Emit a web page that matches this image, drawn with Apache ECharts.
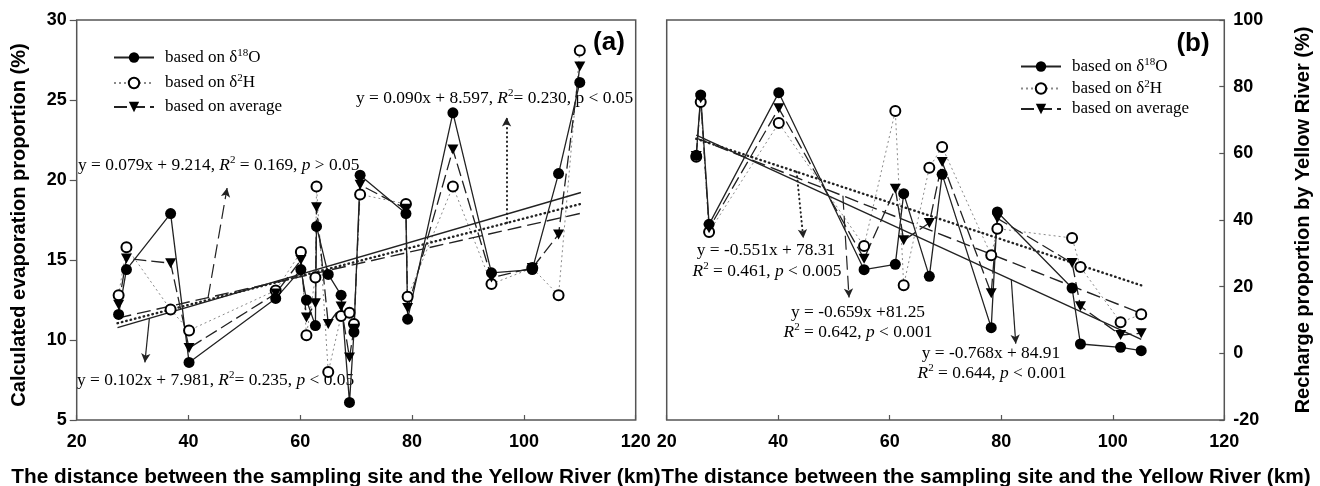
<!DOCTYPE html>
<html>
<head>
<meta charset="utf-8">
<script src="https://cdn.jsdelivr.net/npm/echarts@6/dist/echarts.min.js"></script>
<style>
  html, body { margin: 0; padding: 0; background: #fff; }
  #chart { width: 1320px; height: 486px; }
</style>
</head>
<body>
<div id="chart"></div>
<script>
// ---- panel (a): evaporation proportion (%) vs distance (km)
const distA = [27.5, 28.9, 36.8, 40.1, 55.6, 60.1, 61.1, 62.7, 62.9, 65.0, 67.3, 68.8, 69.6, 70.7, 78.9, 79.2, 87.3, 94.2, 101.5, 106.2, 110.0];
const o18A  = [11.6, 14.4, 17.9, 8.6, 12.6, 14.4, 12.5, 10.9, 17.1, 14.1, 12.8, 6.1, 10.5, 20.3, 17.9, 11.3, 24.2, 14.2, 14.4, 20.4, 26.1];
const h2A   = [12.8, 15.8, 11.9, 10.6, 13.1, 15.5, 10.3, 13.9, 19.6, 8.0, 11.5, 11.7, 11.0, 19.1, 18.5, 12.7, 19.6, 13.5, 14.5, 12.8, 28.1];
const avgA  = [12.2, 15.1, 14.8, 9.5, 12.9, 15.0, 11.4, 12.3, 18.3, 11.0, 12.1, 8.9, 10.7, 19.7, 18.2, 12.0, 21.9, 13.9, 14.5, 16.6, 27.1];

// ---- panel (b): recharge proportion by Yellow River (%) vs distance (km)
const distB = [25.3, 26.1, 27.6, 40.1, 55.4, 61.0, 62.5, 67.1, 69.4, 78.2, 79.3, 92.7, 94.2, 101.4, 105.1];
const o18B  = [59.4, 77.5, 38.7, 78.2, 25.1, 26.7, 47.9, 23.1, 53.7, 7.7, 42.4, 19.6, 2.8, 1.8, 0.8];
const h2B   = [59.0, 75.4, 36.4, 69.1, 32.2, 72.7, 20.4, 55.7, 61.9, 29.4, 37.4, 34.6, 25.9, 9.3, 11.7];
const avgB  = [59.2, 76.5, 37.5, 73.5, 28.4, 49.4, 33.9, 39.1, 57.4, 18.0, 40.5, 27.1, 14.1, 5.5, 6.0];

// regression lines (end points)
const fitA_o18 = [[27.3, 10.77], [110.2, 19.22]];
const fitA_h2  = [[27.3, 11.05], [110.2, 18.51]];
const fitA_avg = [[27.3, 11.37], [110.2, 17.92]];
const fitB_o18 = [[25.3, 65.48], [105.1, 4.19]];
const fitB_h2  = [[25.3, 64.37], [105.1, 20.40]];
const fitB_avg = [[25.3, 64.58], [105.1, 11.99]];

// annotation arrows, from the fit line to the equation
const arrowA_o18 = [[33.0, 11.35], [32.2, 8.6]];
const arrowA_h2  = [[96.9, 17.32], [96.9, 23.9]];
const arrowA_avg = [[43.5, 12.65], [46.9, 19.5]];
const arrowB_o18 = [[81.8, 22.1], [82.6, 2.9]];
const arrowB_h2  = [[43.3, 54.45], [44.5, 34.5]];
const arrowB_avg = [[51.6, 47.25], [52.7, 16.75]];

const xTicks = [20, 40, 60, 80, 100, 120];
const names = ['based on δ18O', 'based on δ2H', 'based on average'];

const serif = '"Liberation Serif", "Times New Roman", serif';
const sans = '"Liberation Sans", Arial, sans-serif';

function richSet(size) {
  return {
    g: { width: 6 },
    n: { fontFamily: serif, fontSize: size, color: '#000', lineHeight: 20 },
    i: { fontFamily: serif, fontSize: size, fontStyle: 'italic', color: '#000', lineHeight: 20 },
    s: { fontFamily: serif, fontSize: 11, color: '#000', lineHeight: 12, verticalAlign: 'top' }
  };
}
const legendRich = richSet(17);
const eqRich = richSet(17.4);

function pairs(xs, ys) {
  return xs.map((x, i) => [x, ys[i]]);
}

function legendFmt(name) {
  if (name === names[0]) return '{g|}{n|based on δ}{s|18}{n|O}';
  if (name === names[1]) return '{g|}{n|based on δ}{s|2}{n|H}';
  return '{g|}{n|based on average}';
}

function dataSeries(idx, dist, h2, avg, o18) {
  return [
    {
      name: names[1], type: 'line', xAxisIndex: idx, yAxisIndex: idx,
      data: pairs(dist, h2), symbol: 'emptyCircle', symbolSize: 10,
      itemStyle: { color: '#000', borderColor: '#000', borderWidth: 1.2 },
      lineStyle: { color: '#8a8a8a', width: 1, type: [2, 3] }
    },
    {
      name: names[2], type: 'line', xAxisIndex: idx, yAxisIndex: idx,
      data: pairs(dist, avg), symbol: 'triangle', symbolSize: [11, 10], symbolRotate: 180,
      itemStyle: { color: '#000' },
      lineStyle: { color: '#222', width: 1.3, type: [13, 5] }
    },
    {
      name: names[0], type: 'line', xAxisIndex: idx, yAxisIndex: idx,
      data: pairs(dist, o18), symbol: 'circle', symbolSize: 11,
      itemStyle: { color: '#000' },
      lineStyle: { color: '#222', width: 1.3 }
    }
  ];
}

const fitStyles = {
  solid: { color: '#222', width: 1.4, type: 'solid' },
  dotted: { color: '#222', width: 2.4, type: [0.5, 4], cap: 'round' },
  dashed: { color: '#222', width: 1.4, type: [14, 6] }
};

function fitSeries(idx, pts, arrow, style) {
  return {
    type: 'line', xAxisIndex: idx, yAxisIndex: idx, data: pts,
    symbol: 'none', silent: true, lineStyle: style,
    markLine: {
      silent: true, symbol: ['none', 'arrow'], symbolSize: [7, 9],
      label: { show: false },
      lineStyle: Object.assign({}, style, { width: style === fitStyles.dotted ? 2 : 1.2 }),
      data: [[{ coord: arrow[0] }, { coord: arrow[1] }]]
    }
  };
}

function eqText(x, y, str, align) {
  return {
    type: 'text', x: x, y: y, silent: true,
    style: {
      text: str, rich: eqRich, fill: '#000',
      textAlign: align, align: align,
      textVerticalAlign: 'middle', verticalAlign: 'middle'
    }
  };
}

function boldText(x, y, str, size, rot) {
  return {
    type: 'text', x: x, y: y, rotation: rot || 0, silent: true,
    style: {
      text: str, fill: '#000', font: 'bold ' + size + 'px ' + sans,
      textAlign: 'center', align: 'center',
      textVerticalAlign: 'middle', verticalAlign: 'middle'
    }
  };
}

const tickLabel = { color: '#000', fontFamily: sans, fontWeight: 'bold', fontSize: 18 };

const chart = echarts.init(document.getElementById('chart'), null, { renderer: 'canvas' });

chart.setOption({
  animation: false,
  backgroundColor: '#fff',
  grid: [
    { left: 76.7, top: 20, width: 559, height: 400, show: true, borderColor: '#555', borderWidth: 1.5, containLabel: false },
    { left: 666.7, top: 20, width: 557.6, height: 400, show: true, borderColor: '#555', borderWidth: 1.5, containLabel: false }
  ],
  xAxis: [0, 1].map(i => ({
    type: 'value', gridIndex: i, position: 'bottom',
    min: xTicks[0], max: xTicks[xTicks.length - 1], interval: 20,
    axisLine: { show: false, onZero: false },
    axisTick: { show: true, inside: true, length: 5, lineStyle: { color: '#555', width: 1.2 } },
    axisLabel: { margin: 13, ...tickLabel },
    splitLine: { show: false }
  })),
  yAxis: [
    {
      type: 'value', gridIndex: 0, min: 5, max: 30, interval: 5,
      axisLine: { show: false, onZero: false },
      axisTick: { show: true, inside: false, length: 7, lineStyle: { color: '#555', width: 1.2 } },
      axisLabel: { margin: 10, ...tickLabel },
      splitLine: { show: false }
    },
    {
      type: 'value', gridIndex: 1, position: 'right', min: -20, max: 100, interval: 20,
      axisLine: { show: false, onZero: false },
      axisTick: { show: true, inside: true, length: 5, lineStyle: { color: '#555', width: 1.2 } },
      axisLabel: { margin: 9, ...tickLabel },
      splitLine: { show: false }
    }
  ],
  legend: [
    {
      data: names, orient: 'vertical', left: 113, top: 47.5, padding: 0,
      itemWidth: 40, itemHeight: 13, itemGap: 7, selectedMode: false,
      formatter: legendFmt, textStyle: { rich: legendRich }
    },
    {
      data: names, orient: 'vertical', left: 1020, top: 56.5, padding: 0,
      itemWidth: 40, itemHeight: 13, itemGap: 3.5, selectedMode: false,
      formatter: legendFmt, textStyle: { rich: legendRich }
    }
  ],
  series: [
    ...dataSeries(0, distA, h2A, avgA, o18A),
    fitSeries(0, fitA_o18, arrowA_o18, fitStyles.solid),
    fitSeries(0, fitA_h2, arrowA_h2, fitStyles.dotted),
    fitSeries(0, fitA_avg, arrowA_avg, fitStyles.dashed),
    ...dataSeries(1, distB, h2B, avgB, o18B),
    fitSeries(1, fitB_o18, arrowB_o18, fitStyles.solid),
    fitSeries(1, fitB_h2, arrowB_h2, fitStyles.dotted),
    fitSeries(1, fitB_avg, arrowB_avg, fitStyles.dashed)
  ],
  graphic: [
    // equations, panel (a)
    eqText(78, 165, '{n|y = 0.079x + 9.214, }{i|R}{s|2}{n| = 0.169, }{i|p}{n| > 0.05}', 'left'),
    eqText(77, 380, '{n|y = 0.102x + 7.981, }{i|R}{s|2}{n|= 0.235, }{i|p}{n| < 0.05}', 'left'),
    eqText(356, 98, '{n|y = 0.090x + 8.597, }{i|R}{s|2}{n|= 0.230, p < 0.05}', 'left'),
    // equations, panel (b)
    eqText(766, 250, '{n|y = -0.551x + 78.31}', 'center'),
    eqText(767, 271, '{i|R}{s|2}{n| = 0.461, }{i|p}{n| < 0.005}', 'center'),
    eqText(858, 312, '{n|y = -0.659x +81.25}', 'center'),
    eqText(858, 332, '{i|R}{s|2}{n| = 0.642, }{i|p}{n| < 0.001}', 'center'),
    eqText(991, 353, '{n|y = -0.768x + 84.91}', 'center'),
    eqText(992, 373, '{i|R}{s|2}{n| = 0.644, }{i|p}{n| < 0.001}', 'center'),
    // panel letters
    boldText(609, 43, '(a)', 26),
    boldText(1193, 44, '(b)', 26),
    // axis names
    boldText(336, 477, 'The distance between the sampling site and the Yellow River (km)', 20.8),
    boldText(986, 477, 'The distance between the sampling site and the Yellow River (km)', 20.8),
    boldText(19, 225, 'Calculated evaporation proportion (%)', 20, Math.PI / 2),
    boldText(1303, 220, 'Recharge proportion by Yellow River (%)', 20, Math.PI / 2)
  ]
});
</script>
</body>
</html>
